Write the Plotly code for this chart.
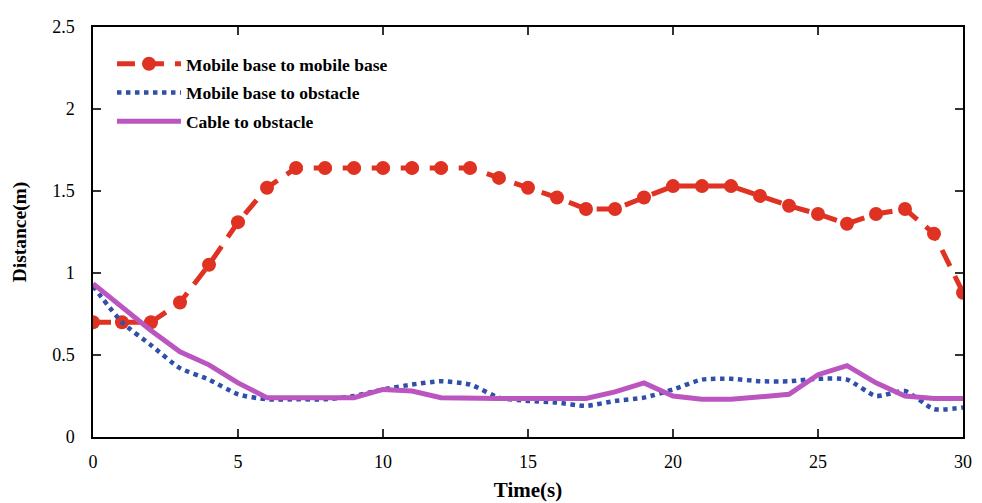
import plotly.graph_objects as go

time_s = list(range(31))
base_to_base = [0.70, 0.70, 0.70, 0.82, 1.05, 1.31, 1.52, 1.64, 1.64, 1.64, 1.64,
                1.64, 1.64, 1.64, 1.58, 1.52, 1.46, 1.39, 1.39, 1.46, 1.53,
                1.53, 1.53, 1.47, 1.41, 1.36, 1.30, 1.36, 1.39, 1.24, 0.88]
base_to_obstacle = [0.92, 0.70, 0.56, 0.42, 0.35, 0.26, 0.23, 0.23, 0.23, 0.25, 0.29,
                    0.32, 0.34, 0.32, 0.24, 0.22, 0.21, 0.19, 0.22, 0.24, 0.29,
                    0.35, 0.355, 0.34, 0.34, 0.355, 0.35, 0.25, 0.28, 0.17, 0.18]
cable_to_obstacle = [0.935, 0.79, 0.65, 0.52, 0.44, 0.33, 0.24, 0.24, 0.24, 0.24, 0.29,
                     0.28, 0.24, 0.235, 0.235, 0.235, 0.235, 0.235, 0.275, 0.33, 0.25,
                     0.23, 0.23, 0.245, 0.26, 0.38, 0.435, 0.33, 0.25, 0.235, 0.235]
series_names = ["Mobile base to mobile base", "Mobile base to obstacle", "Cable to obstacle"]
x_ticks = [0, 5, 10, 15, 20, 25, 30]
y_ticks = [0, 0.5, 1, 1.5, 2, 2.5]
y_tick_text = ["0", "0.5", "1", "1.5", "2", "2.5"]

RED = "#e03222"
BLUE = "#2f4fa8"
MAG = "#bb56c1"

fig = go.Figure()
fig.add_trace(go.Scatter(
    x=time_s, y=base_to_base, name=series_names[0], mode="lines+markers",
    line=dict(color=RED, width=5, dash="18px,11px"),
    marker=dict(color=RED, size=14), legendgroup="a"))
fig.add_trace(go.Scatter(
    x=time_s, y=base_to_obstacle, name=series_names[1], mode="lines",
    line=dict(color=BLUE, width=4.5, dash="dot", shape="spline", smoothing=0.6),
    legendgroup="b"))
fig.add_trace(go.Scatter(
    x=time_s, y=cable_to_obstacle, name=series_names[2], mode="lines",
    line=dict(color=MAG, width=5), legendgroup="c"))

axis_common = dict(
    showline=True, linecolor="black", linewidth=1.5, mirror="ticks",
    ticks="inside", ticklen=8, tickwidth=1.5, tickcolor="#333",
    showgrid=False, zeroline=False, automargin=False,
    tickfont=dict(family="Liberation Serif", size=18, color="black"),
)

fig.update_xaxes(range=[0, 30], tickvals=x_ticks, ticklabelstandoff=8,
                 title=dict(text="<b>Time(s)</b>", standoff=11,
                            font=dict(family="Liberation Serif", size=21, color="black")),
                 **axis_common)
fig.update_yaxes(range=[0, 2.5], tickvals=y_ticks, ticktext=y_tick_text, ticklabelstandoff=13,
                 title=dict(text="<b>Distance(m)</b>", standoff=20,
                            font=dict(family="Liberation Serif", size=19.5, color="black")),
                 **axis_common)

fig.update_layout(
    width=982, height=503,
    margin=dict(l=85, r=27, t=19, b=74),
    plot_bgcolor="white", paper_bgcolor="white",
    legend=dict(x=0.0218, y=0.954, xanchor="left", yanchor="top",
                font=dict(family="Liberation Serif", size=17.5, color="black", weight="bold"),
                itemwidth=64, tracegroupgap=3, bgcolor="rgba(0,0,0,0)"),
)

fig.write_html("out.html")
